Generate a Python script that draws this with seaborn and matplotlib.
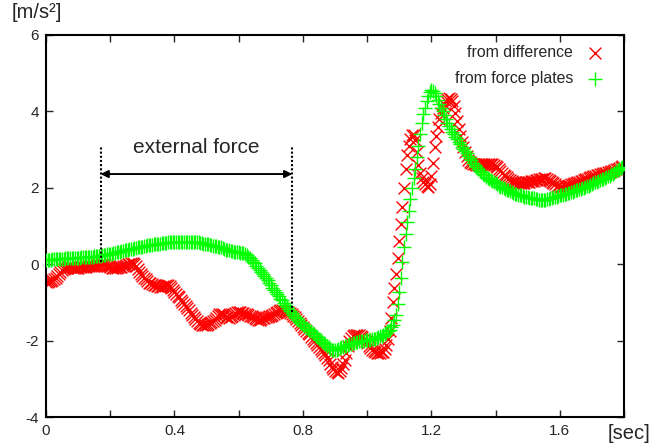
import numpy as np
import seaborn as sns
import matplotlib.pyplot as plt
from matplotlib.ticker import MultipleLocator, FuncFormatter

# sample times [sec], 5 ms steps
t = np.round(np.arange(360) * 0.005, 3)

# acceleration computed from difference [m/s^2], one row = 0.1 sec
acc_difference = [
    -0.46, -0.47, -0.45, -0.44, -0.42, -0.39, -0.35, -0.30, -0.25, -0.20,
    -0.16, -0.12, -0.10, -0.09, -0.08, -0.08, -0.08, -0.09, -0.09, -0.09,
    -0.09, -0.08, -0.08, -0.08, -0.07, -0.07, -0.06, -0.05, -0.05, -0.05,
    -0.04, -0.04, -0.03, -0.02, -0.01, 0.00, 0.00, -0.02, -0.04, -0.06,
    -0.08, -0.09, -0.10, -0.10, -0.09, -0.08, -0.07, -0.07, -0.06, -0.04,
    -0.02, 0.00, 0.01, 0.02, 0.03, 0.01, -0.05, -0.12, -0.20, -0.25,
    -0.30, -0.35, -0.40, -0.44, -0.48, -0.50, -0.52, -0.54, -0.55, -0.57,
    -0.58, -0.59, -0.59, -0.58, -0.56, -0.55, -0.55, -0.58, -0.62, -0.67,
    -0.72, -0.77, -0.82, -0.87, -0.93, -0.98, -1.04, -1.10, -1.15, -1.21,
    -1.27, -1.33, -1.38, -1.44, -1.50, -1.53, -1.56, -1.58, -1.60, -1.60,
    -1.58, -1.56, -1.54, -1.52, -1.50, -1.45, -1.40, -1.35, -1.30, -1.30,
    -1.31, -1.34, -1.37, -1.39, -1.41, -1.39, -1.36, -1.32, -1.28, -1.26,
    -1.25, -1.26, -1.27, -1.28, -1.30, -1.31, -1.33, -1.35, -1.36, -1.38,
    -1.40, -1.43, -1.45, -1.45, -1.44, -1.42, -1.40, -1.38, -1.37, -1.36,
    -1.35, -1.32, -1.30, -1.27, -1.25, -1.22, -1.20, -1.21, -1.22, -1.23,
    -1.25, -1.26, -1.28, -1.31, -1.35, -1.39, -1.44, -1.49, -1.54, -1.59,
    -1.64, -1.69, -1.74, -1.79, -1.84, -1.90, -1.95, -2.00, -2.06, -2.11,
    -2.16, -2.21, -2.26, -2.32, -2.38, -2.45, -2.52, -2.60, -2.68, -2.75,
    -2.80, -2.83, -2.84, -2.80, -2.72, -2.62, -2.50, -2.32, -2.15, -2.02,
    -1.93, -1.89, -1.86, -1.85, -1.85, -1.86, -1.88, -1.91, -1.95, -2.00,
    -2.06, -2.13, -2.20, -2.25, -2.28, -2.30, -2.32, -2.33, -2.32, -2.31,
    -2.29, -2.22, -2.12, -1.97, -1.75, -1.40, -1.00, -0.62, -0.25, 0.15,
    0.60, 1.05, 1.50, 2.00, 2.50, 2.85, 3.10, 3.28, 3.38, 3.38,
    3.25, 2.95, 2.60, 2.40, 2.25, 2.15, 2.10, 2.06, 2.03, 2.10,
    2.30, 2.65, 3.08, 3.35, 3.60, 3.80, 3.95, 4.08, 4.20, 4.27,
    4.32, 4.35, 4.33, 4.26, 4.15, 3.95, 3.75, 3.55, 3.35, 3.20,
    3.08, 2.94, 2.82, 2.74, 2.68, 2.65, 2.63, 2.61, 2.60, 2.60,
    2.60, 2.61, 2.61, 2.62, 2.62, 2.62, 2.62, 2.62, 2.61, 2.60,
    2.58, 2.55, 2.50, 2.44, 2.38, 2.34, 2.30, 2.27, 2.24, 2.21,
    2.18, 2.16, 2.15, 2.14, 2.13, 2.12, 2.12, 2.12, 2.13, 2.14,
    2.15, 2.16, 2.17, 2.18, 2.19, 2.20, 2.21, 2.22, 2.23, 2.24,
    2.25, 2.25, 2.24, 2.21, 2.18, 2.15, 2.12, 2.09, 2.06, 2.04,
    2.03, 2.03, 2.03, 2.04, 2.05, 2.06, 2.07, 2.09, 2.10, 2.12,
    2.13, 2.15, 2.16, 2.18, 2.19, 2.21, 2.22, 2.24, 2.25, 2.27,
    2.28, 2.30, 2.31, 2.33, 2.34, 2.36, 2.37, 2.38, 2.39, 2.40,
    2.41, 2.42, 2.43, 2.45, 2.46, 2.48, 2.50, 2.52, 2.55, 2.57,
]

# acceleration measured by the force plates [m/s^2], one row = 0.1 sec
acc_force_plates = [
    0.11, 0.11, 0.12, 0.12, 0.13, 0.13, 0.13, 0.13, 0.14, 0.14,
    0.14, 0.14, 0.15, 0.15, 0.15, 0.15, 0.16, 0.16, 0.16, 0.16,
    0.17, 0.17, 0.18, 0.18, 0.18, 0.18, 0.19, 0.19, 0.20, 0.20,
    0.21, 0.21, 0.21, 0.21, 0.22, 0.23, 0.24, 0.25, 0.26, 0.26,
    0.27, 0.28, 0.29, 0.30, 0.31, 0.32, 0.33, 0.34, 0.35, 0.36,
    0.37, 0.38, 0.39, 0.40, 0.41, 0.42, 0.43, 0.44, 0.45, 0.45,
    0.46, 0.47, 0.48, 0.49, 0.50, 0.50, 0.51, 0.52, 0.53, 0.53,
    0.54, 0.54, 0.55, 0.55, 0.56, 0.56, 0.57, 0.57, 0.58, 0.58,
    0.58, 0.58, 0.59, 0.59, 0.59, 0.59, 0.59, 0.59, 0.59, 0.59,
    0.59, 0.59, 0.58, 0.58, 0.57, 0.57, 0.56, 0.55, 0.54, 0.54,
    0.53, 0.52, 0.50, 0.49, 0.48, 0.47, 0.47, 0.46, 0.46, 0.44,
    0.42, 0.40, 0.38, 0.37, 0.36, 0.35, 0.34, 0.33, 0.33, 0.32,
    0.31, 0.30, 0.30, 0.29, 0.27, 0.24, 0.20, 0.16, 0.12, 0.07,
    0.02, -0.04, -0.10, -0.15, -0.20, -0.25, -0.31, -0.36, -0.42, -0.48,
    -0.55, -0.61, -0.67, -0.72, -0.78, -0.84, -0.90, -0.95, -1.01, -1.06,
    -1.12, -1.17, -1.23, -1.28, -1.33, -1.37, -1.42, -1.46, -1.51, -1.55,
    -1.60, -1.63, -1.67, -1.70, -1.73, -1.76, -1.80, -1.83, -1.87, -1.91,
    -1.95, -1.99, -2.03, -2.06, -2.10, -2.14, -2.18, -2.21, -2.24, -2.25,
    -2.25, -2.24, -2.22, -2.20, -2.18, -2.16, -2.15, -2.13, -2.12, -2.10,
    -2.09, -2.07, -2.06, -2.04, -2.03, -2.02, -2.01, -2.00, -2.00, -1.99,
    -1.99, -1.98, -1.98, -1.97, -1.96, -1.95, -1.93, -1.91, -1.89, -1.87,
    -1.85, -1.82, -1.79, -1.75, -1.71, -1.65, -1.58, -1.47, -1.32, -1.05,
    -0.72, -0.35, 0.05, 0.45, 0.80, 1.10, 1.40, 1.70, 2.00, 2.25,
    2.50, 2.80, 3.10, 3.40, 3.70, 3.92, 4.10, 4.27, 4.40, 4.50,
    4.56, 4.54, 4.48, 4.40, 4.30, 4.20, 4.10, 4.00, 3.90, 3.80,
    3.70, 3.62, 3.55, 3.47, 3.40, 3.33, 3.27, 3.20, 3.14, 3.08,
    3.02, 2.96, 2.90, 2.84, 2.78, 2.72, 2.66, 2.60, 2.55, 2.50,
    2.45, 2.41, 2.37, 2.33, 2.29, 2.26, 2.23, 2.20, 2.17, 2.14,
    2.12, 2.09, 2.06, 2.03, 2.01, 1.99, 1.97, 1.95, 1.93, 1.91,
    1.89, 1.87, 1.85, 1.83, 1.82, 1.81, 1.80, 1.78, 1.77, 1.76,
    1.75, 1.74, 1.73, 1.72, 1.72, 1.71, 1.70, 1.69, 1.68, 1.68,
    1.68, 1.69, 1.70, 1.71, 1.72, 1.73, 1.75, 1.76, 1.77, 1.78,
    1.80, 1.81, 1.82, 1.83, 1.85, 1.86, 1.87, 1.88, 1.90, 1.91,
    1.93, 1.94, 1.96, 1.97, 1.99, 2.00, 2.02, 2.04, 2.06, 2.08,
    2.10, 2.12, 2.14, 2.16, 2.18, 2.20, 2.22, 2.24, 2.26, 2.28,
    2.30, 2.32, 2.35, 2.37, 2.40, 2.43, 2.46, 2.49, 2.52, 2.55,
]

# "external force" interval annotation
force_start, force_end = 0.17, 0.767
force_start_y, force_end_y = 0.07, -1.24
bracket_top = 3.08
arrow_y = 2.36

sns.set_style('ticks')
plt.rcParams['font.family'] = ['Liberation Sans', 'DejaVu Sans']
plt.rcParams['axes.unicode_minus'] = False

fig = plt.figure(figsize=(6.52, 4.48), dpi=100)
ax = fig.add_axes([46 / 652, 31 / 448, 578 / 652, 382 / 448])

sns.scatterplot(x=t, y=acc_difference, marker='x', color='#ff0000', s=72,
                linewidth=1.0, label='from difference', ax=ax, zorder=2)
sns.scatterplot(x=t, y=acc_force_plates, marker='+', color='#00ff00', s=90,
                linewidth=1.0, label='from force plates', ax=ax, zorder=3)

ax.plot([force_start, force_start], [force_start_y, bracket_top], color='black',
        ls=(0, (1, 1)), lw=1.5, zorder=4)
ax.plot([force_end, force_end], [force_end_y, bracket_top], color='black',
        ls=(0, (1, 1)), lw=1.5, zorder=4)
ax.annotate('', xy=(force_start, arrow_y), xytext=(force_end, arrow_y),
            arrowprops=dict(arrowstyle='<|-|>', color='black', lw=1.4,
                            mutation_scale=11, shrinkA=0, shrinkB=0), zorder=4)
ax.text((force_start + force_end) / 2, 3.05, 'external force',
        ha='center', va='center', fontsize=15)

ax.set_xlim(0, 1.8)
ax.set_ylim(-4, 6)
ax.xaxis.set_major_locator(MultipleLocator(0.4))
ax.xaxis.set_minor_locator(MultipleLocator(0.2))
ax.yaxis.set_major_locator(MultipleLocator(2))
ax.xaxis.set_major_formatter(FuncFormatter(lambda v, p: '%g' % round(v, 2)))
ax.tick_params(which='both', direction='in', top=True, right=True,
               length=5, width=1, labelsize=11, pad=5)
for sp in ax.spines.values():
    sp.set_linewidth(1.5)
    sp.set_color('black')

leg = ax.legend(loc='upper right', bbox_to_anchor=(0.975, 0.99), frameon=False,
                markerfirst=False, fontsize=11.4, handlelength=1.0,
                handletextpad=0.9, labelspacing=0.7, borderaxespad=0)

fig.text(12 / 652, 1 - 13 / 448, '[m/s²]', ha='left', va='center', fontsize=14.5)
fig.text(608 / 652, 1 - 433 / 448, '[sec]', ha='left', va='center', fontsize=14.5)

fig.savefig('out.png', dpi=100)
